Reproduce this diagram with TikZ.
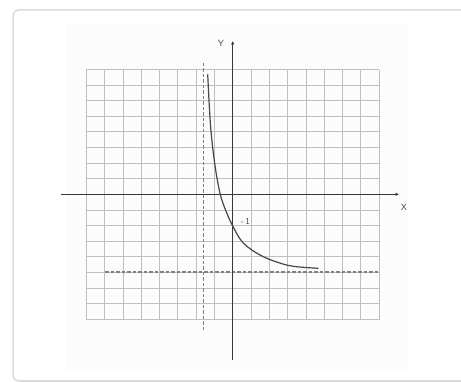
\documentclass[tikz,border=0pt]{standalone}
\usetikzlibrary{arrows.meta}
\begin{document}
\begin{tikzpicture}[x=1pt,y=-1pt,
  gridline/.style={draw=black!25,line width=0.8pt},
  axisline/.style={draw=black!78,line width=0.9pt,-{Latex[length=3.5pt,width=3.5pt]}},
  asym/.style={draw=black!50,line width=1.1pt,dash pattern=on 3.5pt off 2pt},
  curveline/.style={draw=black!72,line width=1.2pt},
  lbl/.style={font=\sffamily\small,text=black!70,inner sep=1pt}]
\useasboundingbox (0,0) rectangle (461,382);
\fill[white] (0,0) rectangle (461,382);
\fill[black!1] (66,24) rectangle (408,370);
\draw[black!14,line width=1.5pt,rounded corners=6pt] (13,10) rectangle (475,381);
% grid
\foreach \i in {-8,...,8}{
  \draw[gridline] ({232.7+18.3*\i},70) -- ({232.7+18.3*\i},320);
  \draw[gridline] (86.3,{194.3+15.625*\i}) -- (379.1,{194.3+15.625*\i});
}
% asymptotes
\coordinate (va1) at (203.3,63);
\coordinate (va2) at (203.3,332);
\coordinate (ha1) at (105,272);
\coordinate (ha2) at (379,272);
\draw[asym] (va1) -- (va2);
\draw[asym] (ha1) -- (ha2);
% axes
\coordinate (xl) at (61,194.3);
\coordinate (xr) at (399,194.3);
\coordinate (yb) at (232.7,360);
\coordinate (yt) at (232.7,41);
\draw[axisline] (xl) -- (xr);
\draw[axisline] (yb) -- (yt);
\node[lbl] (X) at (404,207) {X};
\node[lbl] (Y) at (221,43) {Y};
% curve
\draw[curveline] plot[smooth,tension=0.6] coordinates {(207.7,74.3) (210.5,125) (214.5,162) (219.3,190) (224,206) (232.7,226) (243.3,243) (260,255) (276.7,262) (293.3,266.3) (318.3,268.3)};
\node[lbl] (m1) at (245.5,221.5) {-\,1};
\end{tikzpicture}
\end{document}
